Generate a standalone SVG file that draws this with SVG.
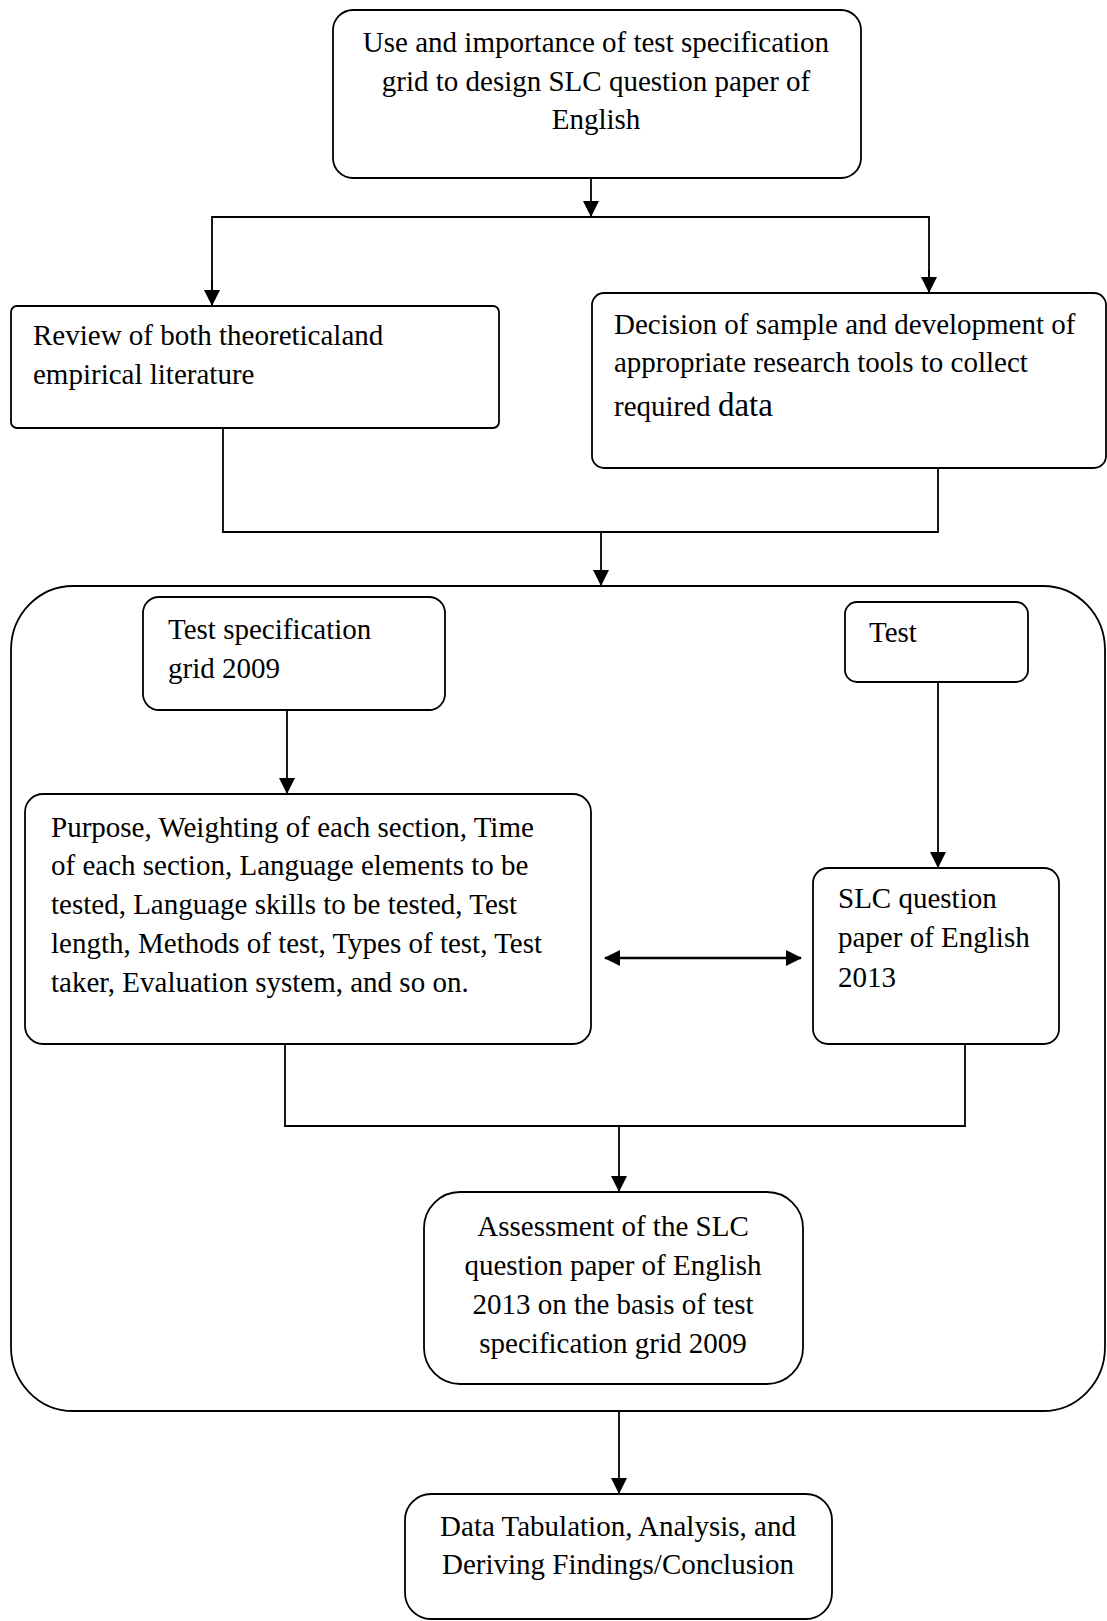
<svg xmlns="http://www.w3.org/2000/svg" width="1107" height="1621" viewBox="0 0 1107 1621">
<style>
.box{fill:#fff;stroke:#000;stroke-width:1.8}
.t{font-family:"Liberation Serif","Times New Roman",serif;font-size:29px;fill:#000}
.c{text-anchor:middle}
.ln{fill:none;stroke:#000;stroke-width:1.8}
.dbl{fill:none;stroke:#000;stroke-width:2.6}
</style>
<defs>
<marker id="ah" markerUnits="userSpaceOnUse" markerWidth="16" markerHeight="16" viewBox="0 0 16 16" refX="16" refY="8" orient="auto">
<path d="M0,0 L16,8 L0,16 Z" fill="#000"/>
</marker>
<marker id="ah2" markerUnits="userSpaceOnUse" markerWidth="16" markerHeight="16" viewBox="0 0 16 16" refX="15" refY="8" orient="auto-start-reverse">
<path d="M0,0 L16,8 L0,16 Z" fill="#000"/>
</marker>
</defs>
<rect width="1107" height="1621" fill="#fff"/>
<g id="container">
<rect class="box" x="11" y="586" width="1094" height="825" rx="62" ry="64"/>
</g>
<g id="top">
<rect class="box" x="333" y="10" width="528" height="168" rx="20"/>
<text class="t c" x="596" y="52">Use and importance of test specification</text>
<text class="t c" x="596" y="91">grid to design SLC question paper of</text>
<text class="t c" x="596" y="129">English</text>
</g>
<g id="review">
<rect class="box" x="11" y="306" width="488" height="122" rx="6"/>
<text class="t" x="33" y="345">Review of both theoreticaland</text>
<text class="t" x="33" y="384">empirical literature</text>
</g>
<g id="decision">
<rect class="box" x="592" y="293" width="514" height="175" rx="12"/>
<text class="t" x="614" y="334">Decision of sample and development of</text>
<text class="t" x="614" y="372">appropriate research tools to collect</text>
<text class="t" x="614" y="416">required <tspan font-size="33">data</tspan></text>
</g>
<g id="testspec">
<rect class="box" x="143" y="597" width="302" height="113" rx="16"/>
<text class="t" x="168" y="639">Test specification</text>
<text class="t" x="168" y="678">grid 2009</text>
</g>
<g id="test">
<rect class="box" x="845" y="602" width="183" height="80" rx="12"/>
<text class="t" x="869" y="642">Test</text>
</g>
<g id="purpose">
<rect class="box" x="25" y="794" width="566" height="250" rx="18"/>
<text class="t" x="51" y="837">Purpose, Weighting of each section, Time</text>
<text class="t" x="51" y="875">of each section, Language elements to be</text>
<text class="t" x="51" y="914">tested, Language skills to be tested, Test</text>
<text class="t" x="51" y="953">length, Methods of test, Types of test, Test</text>
<text class="t" x="51" y="992">taker, Evaluation system, and so on.</text>
</g>
<g id="slc">
<rect class="box" x="813" y="868" width="246" height="176" rx="15"/>
<text class="t" x="838" y="908">SLC question</text>
<text class="t" x="838" y="947">paper of English</text>
<text class="t" x="838" y="987">2013</text>
</g>
<g id="assessment">
<rect class="box" x="424" y="1192" width="379" height="192" rx="36"/>
<text class="t c" x="613" y="1236">Assessment of the SLC</text>
<text class="t c" x="613" y="1275">question paper of English</text>
<text class="t c" x="613" y="1314">2013 on the basis of test</text>
<text class="t c" x="613" y="1353">specification grid 2009</text>
</g>
<g id="data">
<rect class="box" x="405" y="1494" width="427" height="125" rx="26"/>
<text class="t c" x="618" y="1536">Data Tabulation, Analysis, and</text>
<text class="t c" x="618" y="1574">Deriving Findings/Conclusion</text>
</g>
<g id="connectors">
<path class="ln" d="M591,178 V217" marker-end="url(#ah)"/>
<path class="ln" d="M212,306 V217 H929 V293"/>
<path class="ln" d="M212,280 V306" marker-end="url(#ah)"/>
<path class="ln" d="M929,270 V293" marker-end="url(#ah)"/>
<path class="ln" d="M223,428 V532 H938 V468"/>
<path class="ln" d="M601,532 V586" marker-end="url(#ah)"/>
<path class="ln" d="M287,710 V794" marker-end="url(#ah)"/>
<path class="ln" d="M938,682 V868" marker-end="url(#ah)"/>
<path class="dbl" d="M605,958 H801" marker-start="url(#ah2)" marker-end="url(#ah2)"/>
<path class="ln" d="M285,1044 V1126 H965 V1044"/>
<path class="ln" d="M619,1126 V1192" marker-end="url(#ah)"/>
<path class="ln" d="M619,1411 V1494" marker-end="url(#ah)"/>
</g>
</svg>
